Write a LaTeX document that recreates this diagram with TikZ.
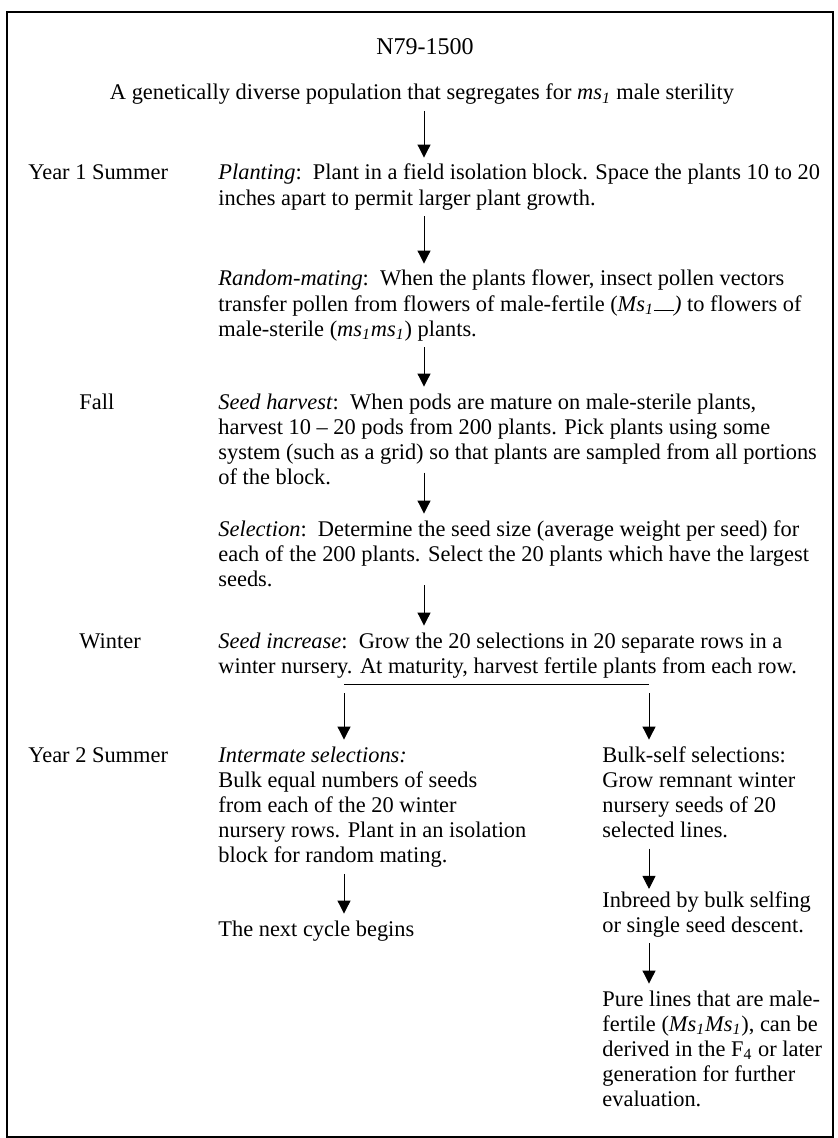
\documentclass[tikz,border=0pt]{standalone}
\usepackage{fontspec}
\setmainfont{Liberation Serif}
\usetikzlibrary{arrows.meta}

\begin{document}
\begin{tikzpicture}[x=0.5pt,y=-0.5pt]

		\tikzset{
            txt/.style={
                anchor=base west,
                inner sep=0pt,
                font=\fontsize{11.2}{12.6}\selectfont
            },
            season/.style={
                txt
            },
            flow/.style={
                -{Triangle[length=6.5pt,width=6.5pt]},
                line width=0.5pt,
                shorten <=1.5pt,
                shorten >=2.2pt
            }
        }

        % text block, baseline on its first line
        \newcommand{\Lines}[1]{\begin{tabular}[t]{@{}l@{}}#1\end{tabular}}

        \useasboundingbox (0,0) rectangle (838,1138);
        \draw[line width=1pt] (7,12.5) rectangle (833,1137);

        % arrow columns
        \coordinate (mid) at (424,0);
        \coordinate (lx) at (344,0);
        \coordinate (rx) at (649,0);

        \node[txt, anchor=base, font=\fontsize{12}{14}\selectfont] (title) at (425,55) {N79-1500};
        \node[txt, anchor=base] (pop) at (422,100)
            {\Lines{A genetically diverse population that segregates for \textit{ms\textsubscript{1}} male sterility}};

        \node[season] (yrone) at (28,180) {Year 1 Summer};
        \node[season] (fall) at (79,409) {Fall};
        \node[season] (winter) at (79,648) {Winter};
        \node[season] (yrtwo) at (28,762) {Year 2 Summer};

        \node[txt] (plant) at (218,180)
            {\Lines{\textit{Planting}:\ \ Plant in a field isolation block. Space the plants 10 to 20\\
             inches apart to permit larger plant growth.}};
        \node[txt] (mate) at (218,286)
            {\Lines{\textit{Random-mating}:\ \ When the plants flower, insect pollen vectors\\
             transfer pollen from flowers of male-fertile (\textit{Ms\textsubscript{1}\rule{0.9em}{0.4pt})} to flowers of\\
             male-sterile (\textit{ms\textsubscript{1}ms\textsubscript{1}}) plants.}};
        \node[txt] (harvest) at (218,409)
            {\Lines{\textit{Seed harvest}:\ \ When pods are mature on male-sterile plants,\\
             harvest 10 -- 20 pods from 200 plants. Pick plants using some\\
             system (such as a grid) so that plants are sampled from all portions\\
             of the block.}};
        \node[txt] (select) at (218,536)
            {\Lines{\textit{Selection}:\ \ Determine the seed size (average weight per seed) for\\
             each of the 200 plants. Select the 20 plants which have the largest\\
             seeds.}};
        \node[txt] (increase) at (218,648)
            {\Lines{\textit{Seed increase}:\ \ Grow the 20 selections in 20 separate rows in a\\
             winter nursery. At maturity, harvest fertile plants from each row.}};

        % two branches
        \node[txt] (intermate) at (218,762)
            {\Lines{\textit{Intermate selections:}\\
             Bulk equal numbers of seeds\\
             from each of the 20 winter\\
             nursery rows. Plant in an isolation\\
             block for random mating.}};
        \node[txt] (nextcycle) at (218,936) {\Lines{The next cycle begins}};

        \node[txt] (bulkself) at (602,762)
            {\Lines{Bulk-self selections:\\
             Grow remnant winter\\
             nursery seeds of 20\\
             selected lines.}};
        \node[txt] (inbreed) at (602,907)
            {\Lines{Inbreed by bulk selfing\\
             or single seed descent.}};
        \node[txt] (purelines) at (602,1006)
            {\Lines{Pure lines that are male-\\
             fertile (\textit{Ms\textsubscript{1}Ms\textsubscript{1}}), can be\\
             derived in the F\textsubscript{4} or later\\
             generation for further\\
             evaluation.}};

        \draw[flow] (pop.south -| mid) -- (plant.north -| mid);
        \draw[flow] (plant.south -| mid) -- (mate.north -| mid);
        \draw[flow] (mate.south -| mid) -- (harvest.north -| mid);
        \draw[flow] ([yshift=11.5pt]harvest.south -| mid) -- (select.north -| mid);
        \draw[flow] ([yshift=6pt]select.south -| mid) -- (increase.north -| mid);

        \coordinate (split) at ([yshift=-1.6pt]increase.south);
        \draw[line width=0.5pt] (split -| lx) -- (split -| rx);
        \draw[flow, shorten <=4.5pt] (split -| lx) -- (intermate.north -| lx);
        \draw[flow, shorten <=4.5pt] (split -| rx) -- (bulkself.north -| rx);

        \draw[flow] (intermate.south -| lx) -- (nextcycle.north -| lx);
        \draw[flow, shorten >=0pt] (bulkself.south -| rx) -- (inbreed.north -| rx);
        \draw[flow] (inbreed.south -| rx) -- (purelines.north -| rx);

\end{tikzpicture}
\end{document}
